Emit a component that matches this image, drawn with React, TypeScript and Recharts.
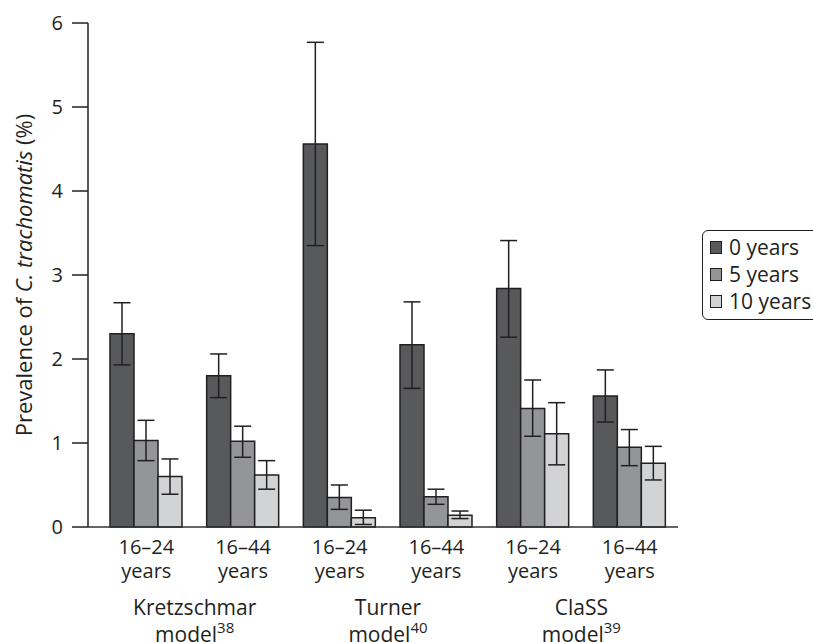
import React from 'react';
import { BarChart, Bar, XAxis, YAxis, ErrorBar, Legend } from 'recharts';

const categories = ['Kretzschmar 16–24', 'Kretzschmar 16–44', 'Turner 16–24', 'Turner 16–44', 'ClaSS 16–24', 'ClaSS 16–44'];
const ageLabels = ['16–24', '16–44', '16–24', '16–44', '16–24', '16–44'];
const categoryModel = ['Kretzschmar', 'Kretzschmar', 'Turner', 'Turner', 'ClaSS', 'ClaSS'];
const models = ['Kretzschmar', 'Turner', 'ClaSS'];
const modelRefs = ['38', '40', '39'];

const years0 = [2.30, 1.80, 4.56, 2.17, 2.84, 1.56];
const years0Low = [1.93, 1.54, 3.35, 1.65, 2.26, 1.25];
const years0High = [2.67, 2.06, 5.77, 2.68, 3.41, 1.87];
const years5 = [1.03, 1.02, 0.35, 0.36, 1.41, 0.95];
const years5Low = [0.79, 0.83, 0.21, 0.27, 1.08, 0.73];
const years5High = [1.27, 1.20, 0.50, 0.45, 1.75, 1.16];
const years10 = [0.60, 0.62, 0.11, 0.14, 1.11, 0.76];
const years10Low = [0.39, 0.45, 0.03, 0.10, 0.74, 0.56];
const years10High = [0.81, 0.79, 0.20, 0.19, 1.48, 0.96];

const yTicks = [0, 1, 2, 3, 4, 5, 6];
const seriesNames = ['0 years', '5 years', '10 years'];
const seriesColors = ['#58595b', '#939598', '#d1d3d4'];

const data = categories.map((c, i) => ({
  category: c,
  model: categoryModel[i],
  y0: years0[i],
  e0: [years0[i] - years0Low[i], years0High[i] - years0[i]],
  y5: years5[i],
  e5: [years5[i] - years5Low[i], years5High[i] - years5[i]],
  y10: years10[i],
  e10: [years10[i] - years10Low[i], years10High[i] - years10[i]],
}));

const FONT = '"Open Sans", sans-serif';
const INK = '#231f20';
const FS = 20;

const AgeTick = (props: any) => {
  const { x, y, payload } = props;
  const idx = categories.indexOf(payload.value);
  return (
    <g>
      <text x={x} y={y + 27} textAnchor="middle" fontFamily={FONT} fontSize={FS} fill={INK}>
        {ageLabels[idx]}
      </text>
      <text x={x} y={y + 51} textAnchor="middle" fontFamily={FONT} fontSize={FS} fill={INK}>
        years
      </text>
    </g>
  );
};

const ModelTick = (props: any) => {
  const { x, y, payload } = props;
  const idx = models.indexOf(payload.value);
  return (
    <g>
      <text x={x} y={y + 28} textAnchor="middle" fontFamily={FONT} fontSize={21} fill={INK}>
        {models[idx]}
      </text>
      <text x={x} y={y + 55} textAnchor="middle" fontFamily={FONT} fontSize={21} fill={INK}>
        model
        <tspan dy={-9} fontSize={15}>{modelRefs[idx]}</tspan>
      </text>
    </g>
  );
};

const YLabel = (props: any) => {
  const vb = props.viewBox || {};
  const cy = (vb.y ?? 23) + (vb.height ?? 504) / 2;
  const cx = 32;
  return (
    <text
      x={cx}
      y={cy}
      transform={`rotate(-90 ${cx} ${cy})`}
      textAnchor="middle"
      fontFamily={FONT}
      fontSize={22}
      fill={INK}
    >
      Prevalence of <tspan fontStyle="italic">C. trachomatis</tspan> (%)
    </text>
  );
};

const LegendBox = () => (
  <div
    style={{
      border: `1.5px solid ${INK}`,
      borderRadius: 6,
      width: 120,
      height: 90,
      boxSizing: 'border-box',
      paddingTop: 3,
      paddingLeft: 6.5,
      fontFamily: FONT,
      fontSize: 21,
      lineHeight: '27px',
      color: INK,
      background: '#fff',
    }}
  >
    {seriesNames.map((n, i) => (
      <div key={n} style={{ display: 'flex', alignItems: 'center', height: 27, whiteSpace: 'nowrap' }}>
        <span
          style={{
            display: 'inline-block',
            width: 12.6,
            height: 12.6,
            boxSizing: 'border-box',
            background: seriesColors[i],
            border: `1px solid ${INK}`,
            marginRight: 7,
            flex: 'none',
          }}
        />
        <span>{n}</span>
      </div>
    ))}
  </div>
);

export default function App() {
  return (
    <div style={{ position: 'absolute', left: 0, top: 0, width: 813, height: 642, overflow: 'hidden', background: '#fff' }}>
      <BarChart
        width={813}
        height={642}
        data={data}
        margin={{ top: 23, right: 135, bottom: 0, left: 0 }}
        barGap={0}
        barSize={24}
      >
        <XAxis
          dataKey="category"
          xAxisId={0}
          height={60}
          padding={{ left: 10, right: 0 }}
          axisLine={{ stroke: '#333', strokeWidth: 1.5 }}
          tickLine={false}
          tickSize={0}
          tickMargin={0}
          tick={<AgeTick />}
          interval={0}
        />
        <XAxis
          dataKey="model"
          xAxisId="model"
          height={55}
          padding={{ left: 10, right: 0 }}
          allowDuplicatedCategory={false}
          axisLine={false}
          tickLine={false}
          tickSize={0}
          tickMargin={0}
          tick={<ModelTick />}
          interval={0}
        />
        <YAxis
          width={88}
          domain={[0, 6]}
          ticks={yTicks}
          interval={0}
          axisLine={{ stroke: INK, strokeWidth: 1.5 }}
          tickLine={{ stroke: INK, strokeWidth: 1.5 }}
          tickSize={16}
          tickMargin={9}
          tick={{ fill: INK, fontSize: FS, fontFamily: FONT }}
          label={<YLabel />}
        />
        <Legend
          layout="horizontal"
          verticalAlign="middle"
          align="center"
          content={<LegendBox />}
          wrapperStyle={{ position: 'absolute', left: 702, top: 230, width: 120, height: 90 }}
        />
        <Bar dataKey="y0" name={seriesNames[0]} fill={seriesColors[0]} stroke={INK} strokeWidth={1.5} isAnimationActive={false}>
          <ErrorBar dataKey="e0" width={8.5} stroke={INK} strokeWidth={1.5} />
        </Bar>
        <Bar dataKey="y5" name={seriesNames[1]} fill={seriesColors[1]} stroke={INK} strokeWidth={1.5} isAnimationActive={false}>
          <ErrorBar dataKey="e5" width={8.5} stroke={INK} strokeWidth={1.5} />
        </Bar>
        <Bar dataKey="y10" name={seriesNames[2]} fill={seriesColors[2]} stroke={INK} strokeWidth={1.5} isAnimationActive={false}>
          <ErrorBar dataKey="e10" width={8.5} stroke={INK} strokeWidth={1.5} />
        </Bar>
      </BarChart>
    </div>
  );
}
